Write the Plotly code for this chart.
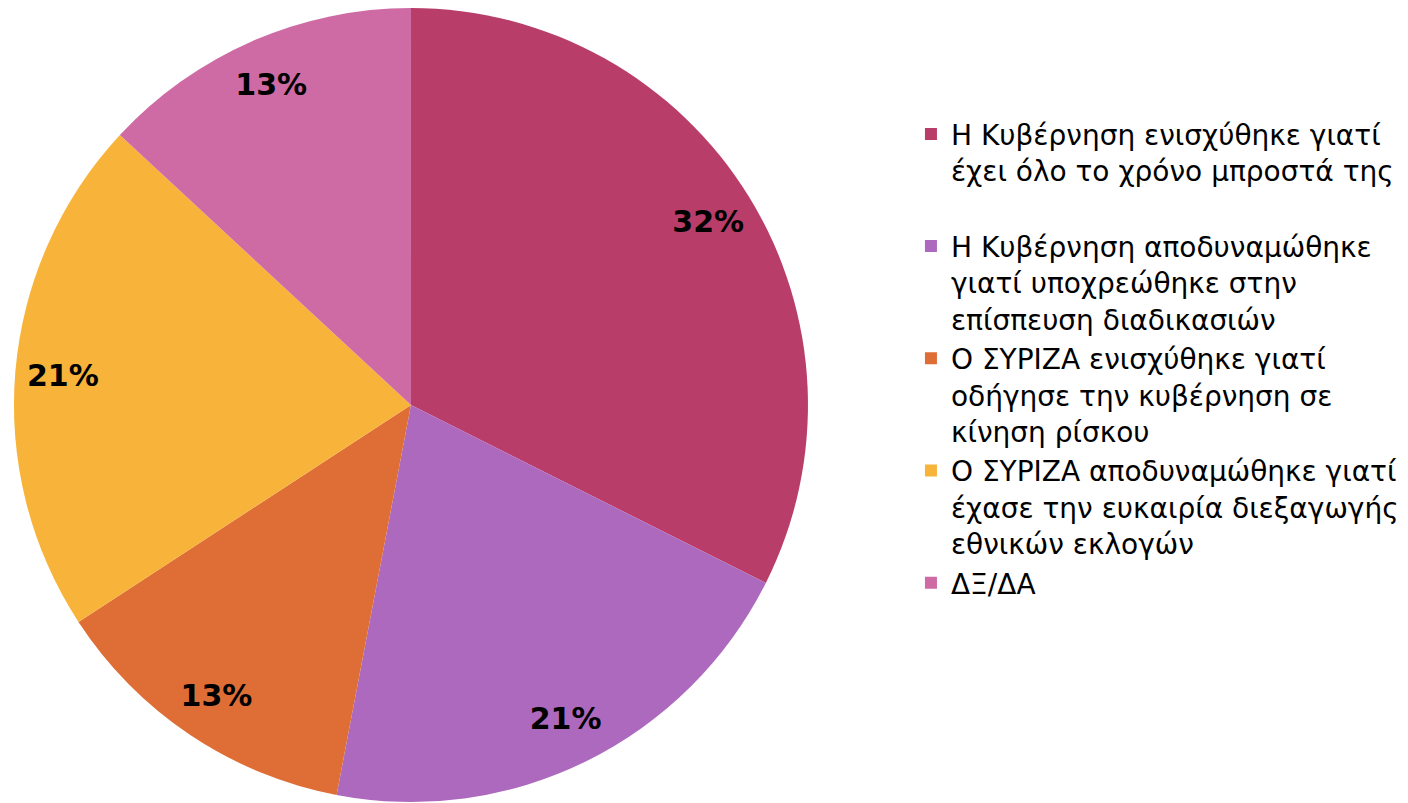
import plotly.graph_objects as go

# answer categories (legend text, line breaks as in the original)
labels = [
    "Η Κυβέρνηση ενισχύθηκε γιατί<br>έχει όλο το χρόνο μπροστά της<br> ",
    "Η Κυβέρνηση αποδυναμώθηκε<br>γιατί υποχρεώθηκε στην<br>επίσπευση διαδικασιών",
    "Ο ΣΥΡΙΖΑ ενισχύθηκε γιατί<br>οδήγησε την κυβέρνηση σε<br>κίνηση ρίσκου",
    "Ο ΣΥΡΙΖΑ αποδυναμώθηκε γιατί<br>έχασε την ευκαιρία διεξαγωγής<br>εθνικών εκλογών",
    "ΔΞ/ΔΑ",
]
values = [32.4, 20.6, 12.8, 21.1, 13.1]
colors = ["#B93D69", "#AC69BE", "#DE6E36", "#F8B43A", "#CE6BA4"]

pie_domain = dict(x=[0, 0.5724], y=[0.0112, 1])

fig = go.Figure()

# coloured slices
fig.add_trace(go.Pie(
    labels=labels,
    values=values,
    sort=False,
    direction="clockwise",
    rotation=0,
    marker=dict(colors=colors, line=dict(width=0)),
    textinfo="none",
    hoverinfo="label+percent",
    domain=pie_domain,
))

# transparent ring on top, only to put the percentages near the rim
fig.add_trace(go.Pie(
    labels=labels,
    values=values,
    sort=False,
    direction="clockwise",
    rotation=0,
    hole=0.76,
    marker=dict(colors=["rgba(0,0,0,0)"] * len(values), line=dict(width=0)),
    texttemplate="<b>%{percent:.0%}</b>",
    textposition="inside",
    insidetextorientation="horizontal",
    textfont=dict(family="DejaVu Sans", size=30, color="black"),
    hoverinfo="skip",
    showlegend=False,
    domain=pie_domain,
))

fig.update_layout(
    width=1408,
    height=803,
    margin=dict(l=0, r=0, t=0, b=0),
    paper_bgcolor="white",
    plot_bgcolor="white",
    uniformtext=dict(minsize=30, mode="show"),
    legend=dict(
        x=0.6413,
        y=0.874,
        xanchor="left",
        yanchor="top",
        valign="top",
        font=dict(family="DejaVu Sans", size=28, color="black"),
        itemwidth=30,
    ),
)

fig.write_html("out.html")
